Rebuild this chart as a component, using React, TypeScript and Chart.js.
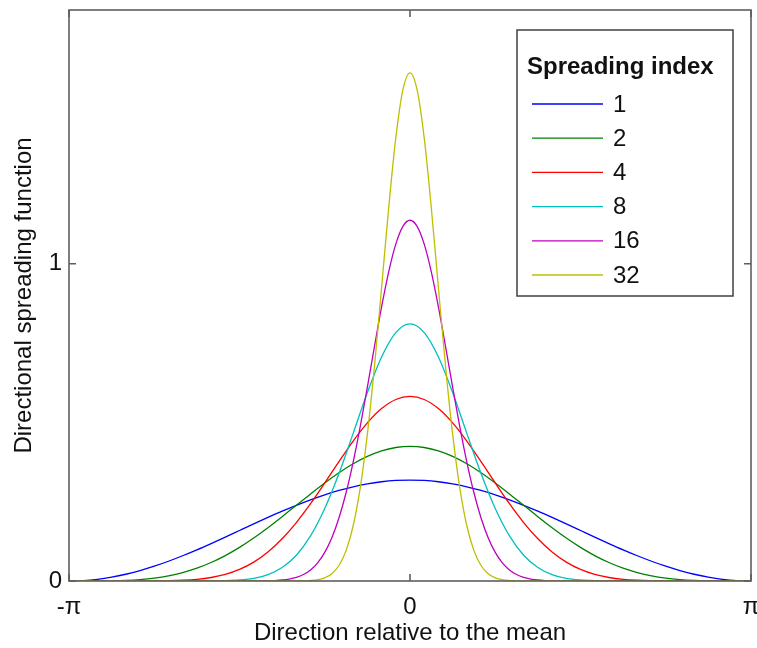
import React, { useEffect, useRef } from 'react';
import { Chart, registerables } from 'chart.js';

Chart.register(...registerables);

// Direction relative to the mean, in degrees (-180 = -π, 180 = π)
const anglesCoarse = [
  -180, -172.5, -165, -157.5, -150, -142.5, -135, -127.5, -120, -112.5, -105, -97.5,
  -90, -82.5, -75, -67.5, -60, -52.5, -45, -37.5, -30, -22.5, -15, -7.5,
  0,
  7.5, 15, 22.5, 30, 37.5, 45, 52.5, 60, 67.5, 75, 82.5, 90,
  97.5, 105, 112.5, 120, 127.5, 135, 142.5, 150, 157.5, 165, 172.5, 180,
];

const anglesFine = [
  -180,
  -90, -86.25, -82.5, -78.75, -75, -71.25, -67.5, -63.75, -60, -56.25, -52.5, -48.75,
  -45, -41.25, -37.5, -33.75, -30, -26.25, -22.5, -18.75, -15, -11.25, -7.5, -3.75,
  0,
  3.75, 7.5, 11.25, 15, 18.75, 22.5, 26.25, 30, 33.75, 37.5, 41.25, 45,
  48.75, 52.5, 56.25, 60, 63.75, 67.5, 71.25, 75, 78.75, 82.5, 86.25, 90,
  180,
];

const spread1 = [
  0, 0.0014, 0.0054, 0.0121, 0.0213, 0.0329, 0.0466, 0.0623, 0.0796, 0.0982, 0.118, 0.1384,
  0.1592, 0.1799, 0.2003, 0.2201, 0.2387, 0.256, 0.2717, 0.2854, 0.297, 0.3062, 0.3129, 0.317,
  0.3183,
  0.317, 0.3129, 0.3062, 0.297, 0.2854, 0.2717, 0.256, 0.2387, 0.2201, 0.2003, 0.1799, 0.1592,
  0.1384, 0.118, 0.0982, 0.0796, 0.0623, 0.0466, 0.0329, 0.0213, 0.0121, 0.0054, 0.0014, 0,
];

const spread2 = [
  0, 0, 0.0001, 0.0006, 0.0019, 0.0045, 0.0091, 0.0162, 0.0265, 0.0404, 0.0583, 0.0802,
  0.1061, 0.1356, 0.1681, 0.2028, 0.2387, 0.2746, 0.3092, 0.3412, 0.3695, 0.3927, 0.4101, 0.4208,
  0.4244,
  0.4208, 0.4101, 0.3927, 0.3695, 0.3412, 0.3092, 0.2746, 0.2387, 0.2028, 0.1681, 0.1356, 0.1061,
  0.0802, 0.0583, 0.0404, 0.0265, 0.0162, 0.0091, 0.0045, 0.0019, 0.0006, 0.0001, 0, 0,
];

const spread4 = [
  0, 0, 0, 0, 0, 0.0001, 0.0003, 0.0009, 0.0023, 0.0053, 0.011, 0.0208,
  0.0364, 0.0594, 0.0913, 0.133, 0.1842, 0.2437, 0.309, 0.3763, 0.4411, 0.4984, 0.5434, 0.5722,
  0.5821,
  0.5722, 0.5434, 0.4984, 0.4411, 0.3763, 0.309, 0.2437, 0.1842, 0.133, 0.0913, 0.0594, 0.0364,
  0.0208, 0.011, 0.0053, 0.0023, 0.0009, 0.0003, 0.0001, 0, 0, 0, 0, 0,
];

const spread8 = [
  0, 0, 0, 0, 0, 0, 0, 0, 0, 0.0001, 0.0003, 0.001,
  0.0032, 0.0084, 0.02, 0.0423, 0.0811, 0.142, 0.2283, 0.3387, 0.4654, 0.5942, 0.7064, 0.7831,
  0.8104,
  0.7831, 0.7064, 0.5942, 0.4654, 0.3387, 0.2283, 0.142, 0.0811, 0.0423, 0.02, 0.0084, 0.0032,
  0.001, 0.0003, 0.0001, 0, 0, 0, 0, 0, 0, 0, 0, 0,
];

const spread16 = [
  0,
  0, 0.0001, 0.0001, 0.0003, 0.0007, 0.0015, 0.0031, 0.0061, 0.0114, 0.0204, 0.0349, 0.0573,
  0.0903, 0.1365, 0.1986, 0.2781, 0.375, 0.4875, 0.6113, 0.7396, 0.8639, 0.9745, 1.0619, 1.1179,
  1.1372,
  1.1179, 1.0619, 0.9745, 0.8639, 0.7396, 0.6113, 0.4875, 0.375, 0.2781, 0.1986, 0.1365, 0.0903,
  0.0573, 0.0349, 0.0204, 0.0114, 0.0061, 0.0031, 0.0015, 0.0007, 0.0003, 0.0001, 0.0001, 0,
  0,
];

const spread32 = [
  0,
  0, 0, 0, 0, 0, 0, 0, 0.0001, 0.0002, 0.0005, 0.0015, 0.0041,
  0.0101, 0.0231, 0.0489, 0.0958, 0.1742, 0.2944, 0.4628, 0.6775, 0.9244, 1.1763, 1.3967, 1.5481,
  1.602,
  1.5481, 1.3967, 1.1763, 0.9244, 0.6775, 0.4628, 0.2944, 0.1742, 0.0958, 0.0489, 0.0231, 0.0101,
  0.0041, 0.0015, 0.0005, 0.0002, 0.0001, 0, 0, 0, 0, 0, 0, 0,
  0,
];

const seriesLabels = ['1', '2', '4', '8', '16', '32'];
const seriesAngles = [anglesCoarse, anglesCoarse, anglesCoarse, anglesCoarse, anglesFine, anglesFine];
const seriesValues = [spread1, spread2, spread4, spread8, spread16, spread32];
const seriesColors = [
  'rgb(0,0,255)',
  'rgb(0,128,0)',
  'rgb(255,0,0)',
  'rgb(0,191,191)',
  'rgb(191,0,191)',
  'rgb(191,191,0)',
];

const xTickValues = [-180, 0, 180];
const xTickLabels = ['-π', '0', 'π'];
const yTickValues = [0, 1];
const yTickLabels = ['0', '1'];

const legendTitle = 'Spreading index';
const xTitle = 'Direction relative to the mean';
const yTitle = 'Directional spreading function';

const FONT = '"Liberation Sans", Arial, Helvetica, sans-serif';

const framePlugin = {
  id: 'matlabFrame',
  afterDatasetsDraw(chart: any) {
    const { ctx, chartArea } = chart;
    const { left, right, top, bottom } = chartArea;
    const xs = chart.scales.x;
    const ys = chart.scales.y;
    ctx.save();
    ctx.strokeStyle = '#5e5e5e';
    ctx.lineWidth = 1.6;
    ctx.strokeRect(left, top, right - left, bottom - top);
    const tl = 7;
    ctx.beginPath();
    xTickValues.forEach((v) => {
      const px = xs.getPixelForValue(v);
      ctx.moveTo(px, bottom);
      ctx.lineTo(px, bottom - tl);
      ctx.moveTo(px, top);
      ctx.lineTo(px, top + tl);
    });
    yTickValues.forEach((v) => {
      const py = ys.getPixelForValue(v);
      ctx.moveTo(left, py);
      ctx.lineTo(left + tl, py);
      ctx.moveTo(right, py);
      ctx.lineTo(right - tl, py);
    });
    ctx.stroke();
    ctx.restore();
  },
};

const legendPlugin = {
  id: 'matlabLegend',
  afterDraw(chart: any) {
    const { ctx, chartArea } = chart;
    const boxRight = chartArea.right - 18;
    const boxTop = chartArea.top + 20;
    const boxW = 216;
    const boxH = 266;
    const boxLeft = boxRight - boxW;
    ctx.save();
    ctx.fillStyle = '#ffffff';
    ctx.fillRect(boxLeft, boxTop, boxW, boxH);
    ctx.strokeStyle = '#404040';
    ctx.lineWidth = 1.5;
    ctx.strokeRect(boxLeft, boxTop, boxW, boxH);

    ctx.fillStyle = '#111';
    ctx.textBaseline = 'middle';
    ctx.textAlign = 'left';
    ctx.font = `bold 24px ${FONT}`;
    ctx.fillText(legendTitle, boxLeft + 10, boxTop + 37);

    ctx.font = `24px ${FONT}`;
    seriesLabels.forEach((lab, i) => {
      const y = boxTop + 74 + i * 34.2;
      ctx.strokeStyle = seriesColors[i];
      ctx.lineWidth = 1.3;
      ctx.beginPath();
      ctx.moveTo(boxLeft + 15, y);
      ctx.lineTo(boxLeft + 86, y);
      ctx.stroke();
      ctx.fillStyle = '#111';
      ctx.fillText(lab, boxLeft + 96, y + 1);
    });
    ctx.restore();
  },
};

export default function App() {
  const ref = useRef<HTMLCanvasElement>(null);

  useEffect(() => {
    document.body.style.margin = '0';
    const canvas = ref.current;
    if (!canvas) return;

    const datasets = seriesLabels.map((lab, i) => ({
      label: lab,
      data: seriesAngles[i].map((a, j) => ({ x: a, y: seriesValues[i][j] })),
      borderColor: seriesColors[i],
      backgroundColor: seriesColors[i],
      borderWidth: 1.3,
      pointRadius: 0,
      fill: false,
      cubicInterpolationMode: 'monotone' as const,
      order: seriesLabels.length - 1 - i,
    }));

    const chart = new Chart(canvas, {
      type: 'line',
      data: { datasets },
      options: {
        animation: false,
        responsive: false,
        devicePixelRatio: 1,
        layout: { padding: { left: 0, top: 10, right: 6, bottom: 0 } },
        plugins: {
          legend: { display: false },
          tooltip: { enabled: false },
        },
        scales: {
          x: {
            type: 'linear',
            min: -180,
            max: 180,
            grid: { display: false, drawTicks: false },
            border: { display: false },
            afterBuildTicks: (scale: any) => {
              scale.ticks = xTickValues.map((v) => ({ value: v }));
            },
            afterFit: (scale: any) => {
              scale.height = 67;
              scale.paddingLeft = 0;
              scale.paddingRight = 0;
            },
            ticks: {
              padding: 12,
              maxRotation: 0,
              autoSkip: false,
              color: '#111',
              font: { family: FONT, size: 24 },
              callback: (value: any) => {
                const idx = xTickValues.indexOf(Number(value));
                return idx >= 0 ? xTickLabels[idx] : '';
              },
            },
            title: {
              display: true,
              text: xTitle,
              color: '#111',
              font: { family: FONT, size: 24 },
              padding: { top: 0, bottom: 0 },
            },
          },
          y: {
            type: 'linear',
            min: 0,
            max: 1.8,
            grid: { display: false, drawTicks: false },
            border: { display: false },
            afterBuildTicks: (scale: any) => {
              scale.ticks = yTickValues.map((v) => ({ value: v }));
            },
            afterFit: (scale: any) => {
              scale.width = 69;
              scale.paddingTop = 0;
              scale.paddingBottom = 0;
            },
            ticks: {
              padding: 7,
              autoSkip: false,
              color: '#111',
              font: { family: FONT, size: 24 },
              callback: (value: any) => {
                const idx = yTickValues.indexOf(Number(value));
                return idx >= 0 ? yTickLabels[idx] : '';
              },
            },
            title: {
              display: true,
              text: yTitle,
              color: '#111',
              font: { family: FONT, size: 24 },
              padding: { top: 10, bottom: 0 },
            },
          },
        },
      },
      plugins: [framePlugin, legendPlugin],
    });

    return () => chart.destroy();
  }, []);

  return (
    <canvas
      ref={ref}
      width={757}
      height={648}
      style={{ display: 'block', width: 757, height: 648 }}
    />
  );
}
